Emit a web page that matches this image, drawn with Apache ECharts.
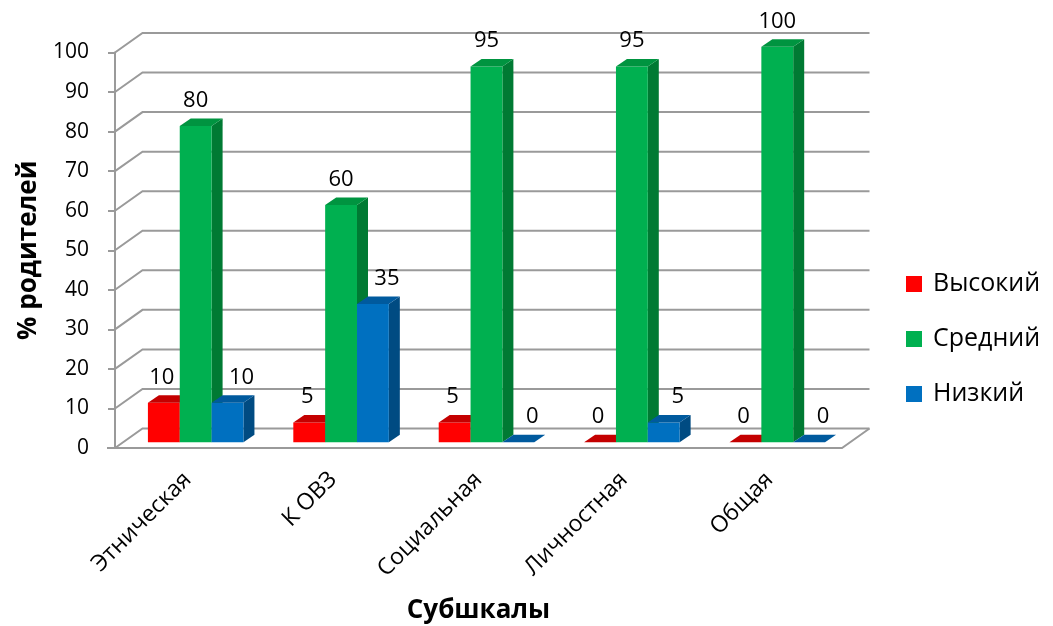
<!DOCTYPE html>
<html>
<head>
<meta charset="utf-8">
<script src="https://cdn.jsdelivr.net/npm/echarts@6/dist/echarts.min.js"></script>
<style>
  html, body { margin: 0; padding: 0; background: #ffffff; }
  #chart { width: 1053px; height: 626px; }
</style>
</head>
<body>
<div id="chart"></div>
<script>
// Subscale categories and the share of parents (%) at each level
const CATEGORIES = ['Этническая', 'К ОВЗ', 'Социальная', 'Личностная', 'Общая'];
const SERIES_NAMES = ['Высокий', 'Средний', 'Низкий'];
const HIGH = [10, 5, 5, 0, 0];
const MEDIUM = [80, 60, 95, 95, 100];
const LOW = [10, 35, 0, 5, 0];
const Y_TICKS = [0, 10, 20, 30, 40, 50, 60, 70, 80, 90, 100];

const FONT = '"Open Sans", "Noto Sans", sans-serif';

// Pseudo-3D geometry (pixel offsets of the depth direction)
const DEPTH = { x: 27.5, y: -19.5 };   // front plane -> back wall
const BAR_FRONT = 0.29;                 // depth fraction of the bar front faces
const BAR_DEPTH = { x: 11, y: -7.5 };   // bar thickness in depth
const BAR_WIDTH = 0.219;                // fraction of the category band per bar
const GRID_COLOR = '#9a9a9a';

const STYLES = [
  { front: '#ff0000', top: '#c40000', side: '#a30000', labelShift: -2 },
  { front: '#00b050', top: '#009440', side: '#007a33', labelShift: 0 },
  { front: '#0070c0', top: '#005a9e', side: '#004b82', labelShift: 14 }
];

const chart = echarts.init(document.getElementById('chart'), null, { renderer: 'canvas' });

function wallItem(params, api) {
  const t = api.value(1);
  const band = api.size([1, 0])[0];
  const pFirst = api.coord([0, t]);
  const pLast = api.coord([CATEGORIES.length - 1, t]);
  const xl = pFirst[0] - band / 2;
  const xr = pLast[0] + band / 2;
  const y = pFirst[1];
  const children = [{
    type: 'polyline',
    shape: { points: [[xl, y], [xl + DEPTH.x, y + DEPTH.y], [xr + DEPTH.x, y + DEPTH.y]] },
    style: { stroke: GRID_COLOR, lineWidth: 2, fill: null }
  }];
  if (t === 0) {
    // floor: front edge and right edge
    children.push({
      type: 'polyline',
      shape: { points: [[xl - 8, y], [xr, y], [xr + DEPTH.x, y + DEPTH.y]] },
      style: { stroke: GRID_COLOR, lineWidth: 2, fill: null }
    });
  }
  return { type: 'group', children: children };
}

function barRenderer(k) {
  const st = STYLES[k];
  return function (params, api) {
    const idx = api.value(0);
    const v = api.value(1);
    const band = api.size([1, 0])[0];
    const w = band * BAR_WIDTH;
    const top = api.coord([idx, v]);
    const base = api.coord([idx, 0]);
    const fx = DEPTH.x * BAR_FRONT, fy = DEPTH.y * BAR_FRONT;
    const cx = top[0] + fx + (k - 1) * w;
    const x0 = cx - w / 2, x1 = cx + w / 2;
    const yT = top[1] + fy, yB = base[1] + fy;
    const bx = BAR_DEPTH.x, by = BAR_DEPTH.y;
    const children = [];
    if (yB - yT > 0.5) {
      children.push({
        type: 'polygon',
        shape: { points: [[x1, yT], [x1 + bx, yT + by], [x1 + bx, yB + by], [x1, yB]] },
        style: { fill: st.side }
      });
      children.push({
        type: 'rect',
        shape: { x: x0, y: yT, width: w, height: yB - yT },
        style: { fill: st.front }
      });
    }
    children.push({
      type: 'polygon',
      shape: { points: [[x0, yT], [x1, yT], [x1 + bx, yT + by], [x0 + bx, yT + by]] },
      style: { fill: st.top }
    });
    children.push({
      type: 'text',
      x: cx + st.labelShift,
      y: yT + by - 18,
      style: {
        text: String(v),
        fontFamily: FONT,
        fontSize: 22,
        fill: '#000000',
        align: 'center',
        verticalAlign: 'middle'
      }
    });
    return { type: 'group', children: children };
  };
}

const values = [HIGH, MEDIUM, LOW];

const barSeries = SERIES_NAMES.map(function (name, k) {
  return {
    type: 'custom',
    name: name,
    z: 3 + k,
    itemStyle: { color: STYLES[k].front },
    renderItem: barRenderer(k),
    data: values[k].map(function (v, i) { return [i, v]; })
  };
});

chart.setOption({
  animation: false,
  textStyle: { fontFamily: FONT },
  grid: { left: 115, right: 211, top: 52.5, bottom: 178, containLabel: false, outerBoundsMode: 'none' },
  legend: {
    orient: 'vertical',
    left: 906,
    top: 269,
    padding: 0,
    icon: 'rect',
    itemWidth: 16,
    itemHeight: 16,
    itemGap: 25,
    data: SERIES_NAMES,
    textStyle: { fontFamily: FONT, fontSize: 25, color: '#000', lineHeight: 30, padding: [0, 0, 0, 6] }
  },
  xAxis: {
    type: 'category',
    data: CATEGORIES,
    name: 'Субшкалы',
    nameLocation: 'middle',
    nameGap: 150,
    nameTextStyle: { fontFamily: FONT, fontSize: 26, fontWeight: 'bold', color: '#000' },
    axisLine: { show: false },
    axisTick: { show: false },
    axisLabel: { rotate: 45, margin: 28, fontFamily: FONT, fontSize: 23, color: '#000', interval: 0 }
  },
  yAxis: {
    type: 'value',
    min: 0,
    max: 100,
    interval: 10,
    name: '% родителей',
    nameLocation: 'middle',
    nameRotate: 90,
    nameGap: 67,
    nameTextStyle: { fontFamily: FONT, fontSize: 26, fontWeight: 'bold', color: '#000' },
    axisLine: { show: true, lineStyle: { color: GRID_COLOR, width: 2 } },
    axisTick: { show: true, length: 7, lineStyle: { color: GRID_COLOR, width: 2 } },
    axisLabel: { margin: 26, fontFamily: FONT, fontSize: 21, color: '#000' },
    splitLine: { show: false }
  },
  series: [{
    type: 'custom',
    name: 'walls',
    z: 1,
    silent: true,
    renderItem: wallItem,
    data: Y_TICKS.map(function (t) { return [0, t]; })
  }].concat(barSeries)
});
</script>
</body>
</html>
